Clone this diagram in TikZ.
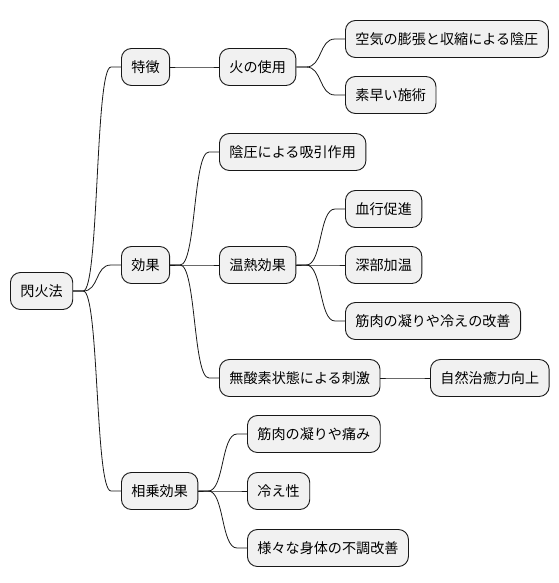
\documentclass[tikz,border=0pt]{standalone}
\usepackage{fontspec}
\newfontfamily\jpfont{Noto Sans CJK JP}
\usepackage{tikz}
\usetikzlibrary{positioning,calc}
\definecolor{nodegray}{RGB}{241,241,241}
\definecolor{edgeblack}{RGB}{24,24,24}
\tikzset{
  topic/.style={rectangle, rounded corners=10pt, draw=edgeblack, fill=nodegray,
    line width=0.9pt, font=\jpfont\fontsize{14.1}{16}\selectfont,
    inner xsep=10pt, minimum height=37pt, anchor=west},
  branch/.style={draw=edgeblack, line width=0.8pt}
}
\newcommand{\linkto}[2]{%
  \draw[branch] (#1.east) -- ++(10,0) .. controls +(16,0) and +(-16,0) ..
    ($(#2.west)+(-10,0)$) -- (#2.west);}

\begin{document}
\begin{tikzpicture}[x=1pt, y=-1pt]
  \useasboundingbox (0,0) rectangle (558,583);

  % root
  \node[topic] (root) at (10,291) {閃火法};

  % first level
  \node[topic] (feature) at (121,67) {特徴};
  \node[topic] (effect) at (121,265) {効果};
  \node[topic] (synergy) at (121,491) {相乗効果};

  % 特徴
  \node[topic] (fire) at (219,67) {火の使用};
  \node[topic] (pressure) at (345,39) {空気の膨張と収縮による陰圧};
  \node[topic] (quick) at (345,95) {素早い施術};

  % 効果
  \node[topic] (suction) at (219,152) {陰圧による吸引作用};
  \node[topic] (thermal) at (219,265) {温熱効果};
  \node[topic] (blood) at (345,209) {血行促進};
  \node[topic] (deep) at (345,265) {深部加温};
  \node[topic] (muscle) at (345,321) {筋肉の凝りや冷えの改善};
  \node[topic] (anoxia) at (219,378) {無酸素状態による刺激};
  \node[topic] (healing) at (430,378) {自然治癒力向上};

  % 相乗効果
  \node[topic] (stiff) at (247,434) {筋肉の凝りや痛み};
  \node[topic] (chill) at (247,491) {冷え性};
  \node[topic] (various) at (247,548) {様々な身体の不調改善};

  % connectors
  \linkto{root}{feature}
  \linkto{root}{effect}
  \linkto{root}{synergy}
  \linkto{feature}{fire}
  \linkto{fire}{pressure}
  \linkto{fire}{quick}
  \linkto{effect}{suction}
  \linkto{effect}{thermal}
  \linkto{effect}{anoxia}
  \linkto{thermal}{blood}
  \linkto{thermal}{deep}
  \linkto{thermal}{muscle}
  \linkto{anoxia}{healing}
  \linkto{synergy}{stiff}
  \linkto{synergy}{chill}
  \linkto{synergy}{various}
\end{tikzpicture}
\end{document}
